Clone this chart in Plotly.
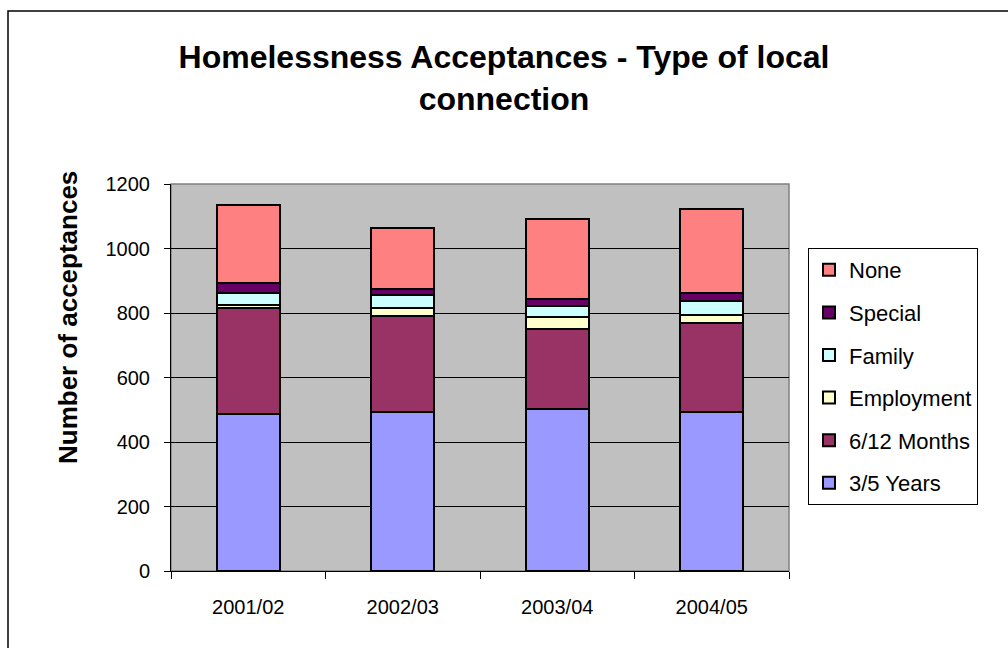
import plotly.graph_objects as go

years = ["2001/02", "2002/03", "2003/04", "2004/05"]
series_names = ["3/5 Years", "6/12 Months", "Employment", "Family", "Special", "None"]
years_3_5 = [488, 494, 501, 494]
months_6_12 = [328, 296, 249, 275]
employment = [10, 25, 39, 26]
family = [36, 40, 34, 42]
special = [31, 19, 19, 25]
none = [242, 190, 248, 260]
colors = ["#9999FF", "#993366", "#FFFFCC", "#CCFFFF", "#660066", "#FF8080"]
y_ticks = [0, 200, 400, 600, 800, 1000, 1200]

values = [years_3_5, months_6_12, employment, family, special, none]

W, H = 1008, 648
L, R, T, B = 171, 1008 - 789, 184, 648 - 571
pw, ph = W - L - R, H - T - B

fig = go.Figure()
n = len(series_names)
for i, (name, vals, col) in enumerate(zip(series_names, values, colors)):
    fig.add_trace(go.Bar(
        x=years, y=vals, name=name, legendgroup=name, legendrank=n - i,
        marker=dict(color=col, line=dict(color="black", width=2)),
        width=0.41,
    ))

def px_x(p):
    return (p - L) / pw

def px_y(p):
    return (H - B - p) / ph

fig.update_layout(
    width=W, height=H,
    margin=dict(l=L, r=R, t=T, b=B, pad=0),
    barmode="stack",
    paper_bgcolor="white",
    plot_bgcolor="#C0C0C0",
    font=dict(family="Liberation Sans, Arial", color="black", size=20),
    title=dict(
        text="Homelessness Acceptances - Type of local<br>connection",
        x=px_x(480), xanchor="center", y=1 - 68 / H, yanchor="middle",
        font=dict(size=32, family="Liberation Sans, Arial", color="black", weight="bold"),
    ),
    showlegend=True,
    legend=dict(
        x=px_x(808), y=px_y(248), xanchor="left", yanchor="top",
        traceorder="grouped", tracegroupgap=11,
        bordercolor="black", borderwidth=1, bgcolor="white",
        font=dict(size=22, family="Liberation Sans, Arial"),
        itemwidth=30,
    ),
    xaxis=dict(
        showline=True, linecolor="black", linewidth=1,
        ticks="outside", ticklen=7, tickcolor="black",
        showgrid=False, tickfont=dict(size=20),
        ticklabelstandoff=18,
    ),
    yaxis=dict(
        range=[0, 1200], tickvals=y_ticks,
        showline=True, linecolor="black", linewidth=1,
        ticks="outside", ticklen=6, tickcolor="black",
        showgrid=True, gridcolor="black", gridwidth=1,
        tickfont=dict(size=20),
        ticklabelstandoff=10,
        zeroline=False,
    ),
    annotations=[dict(
        text="<b>Number of acceptances</b>", textangle=-90,
        xref="paper", yref="paper", x=px_x(68), y=px_y(318),
        xanchor="center", yanchor="middle", showarrow=False,
        font=dict(size=26, family="Liberation Sans, Arial", color="black"),
    )],
)

# Excel style: x ticks between categories
fig.update_xaxes(tickson="boundaries")

# plot area border
fig.add_shape(type="rect", xref="paper", yref="paper", x0=0, x1=1, y0=0, y1=1,
              line=dict(color="#808080", width=1.5), layer="below")
# outer chart border
fig.add_shape(type="rect", xref="paper", yref="paper",
              x0=px_x(8), x1=px_x(1012), y0=px_y(652), y1=px_y(11),
              line=dict(color="black", width=1.5))

fig.write_html("out.html")
